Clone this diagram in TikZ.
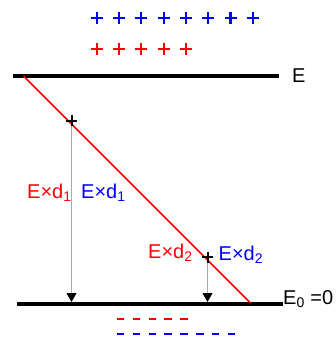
\documentclass[tikz,border=0pt]{standalone}
\usepackage{fontspec}
\setmainfont{Liberation Sans}
\usetikzlibrary{arrows.meta,positioning,calc}
\definecolor{posred}{HTML}{FF0000}
\definecolor{posblue}{HTML}{0000FF}
\definecolor{dropgray}{HTML}{A8A8A8}
\tikzset{
  level/.style={line width=4pt, draw=black},
  slope/.style={line width=1.5pt, draw=posred},
  drop/.style={-{Triangle[length=9pt, width=10pt, color=black]}, draw=dropgray, line width=0.9pt},
  lbl/.style={font=\fontsize{20}{24}\selectfont, inner sep=0pt, anchor=base west},
  charge/.style={line width=2.2pt},
  qmark/.style={line width=2pt, draw=black}
}
\newcommand{\plusat}[3]{\draw[#1] ($(#2)+(-#3,0)$) -- ($(#2)+(#3,0)$) ($(#2)+(0,-#3)$) -- ($(#2)+(0,#3)$);}

\begin{document}
\begin{tikzpicture}[x=1pt, y=-1pt]
 \useasboundingbox (0,0) rectangle (336,345);
 % energy levels
 \coordinate (topL) at (13,76);   \coordinate (topR) at (279,76);
 \coordinate (botL) at (17,304);  \coordinate (botR) at (283,304);
 \draw[level] (topL) -- (topR);
 \draw[level] (botL) -- (botR);
 \node[lbl] (E) at (292,82) {E};
 \node[lbl] (E0) at (283,304) {E\textsubscript{0} =0};
 % field line
 \coordinate (slTop) at (23.5,76); \coordinate (slBot) at (250.5,303);
 \draw[slope] (slTop) -- (slBot);
 % test charges and their drops
 \coordinate (q1) at (71.5,120.5); \coordinate (q2) at (207.5,257);
 \draw[drop] (q1) -- (q1 |- 0,302);
 \draw[drop] (q2) -- (q2 |- 0,302);
 \plusat{qmark}{q1}{5.5}
 \plusat{qmark}{q2}{5.5}
 \node[lbl, text=posred]  (rd1) at (27,198)  {E×d\textsubscript{1}};
 \node[lbl, text=posblue] (bd1) at (81,198)  {E×d\textsubscript{1}};
 \node[lbl, text=posred]  (rd2) at (148,258) {E×d\textsubscript{2}};
 \node[lbl, text=posblue] (bd2) at (218.5,260) {E×d\textsubscript{2}};
 % charges above and below
 \foreach \i in {0,...,7} { \coordinate (bp\i) at (96.7+22.3*\i,18.3); \plusat{charge, draw=posblue}{bp\i}{6} }
 \foreach \i in {0,...,4} { \coordinate (rp\i) at (96.7+22.3*\i,49); \plusat{charge, draw=posred}{rp\i}{6} }
 \foreach \i in {0,...,4} { \draw[charge, draw=posred] (116.7+15.9*\i,319) -- ++(7.3,0); }
 \foreach \i in {0,...,7} { \draw[charge, draw=posblue] (116.7+15.9*\i,334.3) -- ++(7.3,0); }
\end{tikzpicture}
\end{document}
